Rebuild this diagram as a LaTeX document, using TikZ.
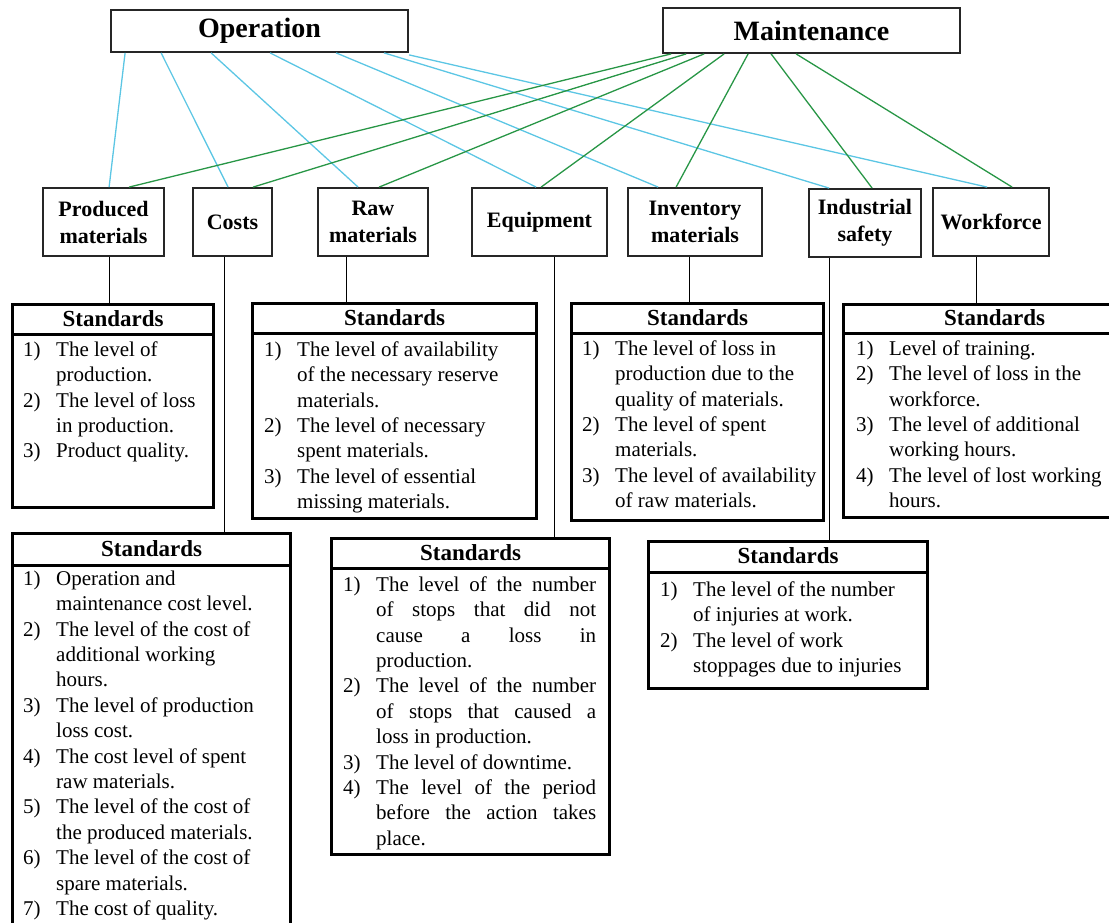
\documentclass[tikz,border=0pt]{standalone}
\usepackage{fontspec}
\setmainfont{Liberation Serif}
\usetikzlibrary{calc}
\definecolor{opc}{RGB}{92,198,228}
\definecolor{mtc}{RGB}{40,150,70}
\newlength\numw
\setlength\numw{33pt}
\newcommand\sitem[2]{\makebox[\numw][l]{#1}#2}
\newcommand\scont[1]{\hspace*{\numw}#1}
\newcommand\jl[1]{\makebox[220pt][s]{#1}}
\begin{document}
\begin{tikzpicture}[x=1pt,y=-1pt,
  topbox/.style={draw=black!85, line width=1.8pt, font=\fontsize{28}{32}\selectfont\bfseries, inner sep=0pt},
  catbox/.style={draw=black!85, line width=1.8pt, font=\fontsize{22}{27}\selectfont\bfseries, align=center, inner sep=0pt, minimum height=68pt},
  stdbox/.style={draw=black, line width=3.2pt, anchor=north west, inner sep=0pt},
  stdhead/.style={font=\fontsize{23}{27}\selectfont\bfseries, inner sep=0pt},
  stdsep/.style={draw=black, line width=3pt},
  stdtext/.style={font=\fontsize{21}{25.4}\selectfont, align=left, anchor=north west, inner sep=0pt},
  oplink/.style={draw=opc, line width=1.3pt},
  mtlink/.style={draw=mtc, line width=1.3pt},
  stem/.style={draw=black, line width=1.2pt}]
\useasboundingbox (0,0) rectangle (1109,923);
\clip (0,0) rectangle (1109,923);

% top boxes
\node[topbox, minimum width=297pt, minimum height=42pt] (op) at (259.5,31) {Operation};
\node[topbox, minimum width=297pt, minimum height=45pt] (mt) at (811.5,30.5) {Maintenance};

% category boxes
\node[catbox, minimum width=121pt] (pm) at (103.5,222) {Produced\\materials};
\node[catbox, minimum width=79pt]  (co) at (232.5,222) {Costs};
\node[catbox, minimum width=110pt] (rm) at (373,222) {Raw\\materials};
\node[catbox, minimum width=135pt] (eq) at (539.5,222) {Equipment};
\node[catbox, minimum width=134pt] (im) at (695,222) {Inventory\\materials};
\node[catbox, minimum width=112pt] (is) at (865,223) {Industrial\\safety};
\node[catbox, minimum width=116pt] (wf) at (991,222) {Workforce};

% operation links
\draw[oplink] ([xshift=15pt]op.south west) -- ([xshift=67pt]pm.north west);
\draw[oplink] ([xshift=51pt]op.south west) -- ([xshift=36pt]co.north west);
\draw[oplink] ([xshift=101pt]op.south west) -- ([xshift=41pt]rm.north west);
\draw[oplink] ([xshift=160pt]op.south west) -- ([xshift=65pt]eq.north west);
\draw[oplink] ([xshift=226pt]op.south west) -- ([xshift=31pt]im.north west);
\draw[oplink] ([xshift=274pt]op.south west) -- ([xshift=21pt]is.north west);
\draw[oplink] ([xshift=299pt,yshift=-2pt]op.south west) -- ([xshift=55pt]wf.north west);

% maintenance links
\draw[mtlink] ([xshift=9pt]mt.south west) -- ([xshift=87pt]pm.north west);
\draw[mtlink] ([xshift=24pt]mt.south west) -- ([xshift=61pt]co.north west);
\draw[mtlink] ([xshift=42pt]mt.south west) -- ([xshift=62pt]rm.north west);
\draw[mtlink] ([xshift=62pt]mt.south west) -- ([xshift=70pt]eq.north west);
\draw[mtlink] ([xshift=86pt]mt.south west) -- ([xshift=49pt]im.north west);
\draw[mtlink] ([xshift=109pt]mt.south west) -- ([xshift=64pt]is.north west);
\draw[mtlink] ([xshift=134pt]mt.south west) -- ([xshift=80pt]wf.north west);

% standards boxes
\node[stdbox, minimum width=201pt, minimum height=203pt] (sp) at (11,303) {};
\node[stdbox, minimum width=284pt, minimum height=215pt] (sr) at (251,302) {};
\node[stdbox, minimum width=252pt, minimum height=217pt] (si) at (570,302) {};
\node[stdbox, minimum width=270pt, minimum height=213pt] (sw) at (842,303) {};
\node[stdbox, minimum width=278pt, minimum height=420pt] (sc) at (11,532) {};
\node[stdbox, minimum width=278pt, minimum height=316pt] (se) at (330,537) {};
\node[stdbox, minimum width=279pt, minimum height=147pt] (ss) at (647,540) {};

% header separators
\draw[stdsep] ([yshift=-31pt]sp.north west) -- ([yshift=-31pt]sp.north east);
\draw[stdsep] ([yshift=-31pt]sr.north west) -- ([yshift=-31pt]sr.north east);
\draw[stdsep] ([yshift=-31pt]si.north west) -- ([yshift=-31pt]si.north east);
\draw[stdsep] ([yshift=-30pt]sw.north west) -- ([yshift=-30pt]sw.north east);
\draw[stdsep] ([yshift=-33pt]sc.north west) -- ([yshift=-33pt]sc.north east);
\draw[stdsep] ([yshift=-31pt]se.north west) -- ([yshift=-31pt]se.north east);
\draw[stdsep] ([yshift=-32pt]ss.north west) -- ([yshift=-32pt]ss.north east);

% headers
\node[stdhead] (hp) at ($(sp.north)+(0,15.5)$) {Standards};
\node[stdhead] (hr) at ($(sr.north)+(0,15.5)$) {Standards};
\node[stdhead] (hi) at ($(si.north)+(0,15.5)$) {Standards};
\node[stdhead] (hw) at ($(sw.north)+(16,15)$) {Standards};
\node[stdhead] (hc) at ($(sc.north)+(0,16.5)$) {Standards};
\node[stdhead] (he) at ($(se.north)+(0,15.5)$) {Standards};
\node[stdhead] (hs) at ($(ss.north)+(0,16)$) {Standards};

% stems
\draw[stem] ([xshift=67pt]pm.south west) -- ([xshift=67pt]pm.south west |- sp.north);
\draw[stem] ([xshift=32pt]co.south west) -- ([xshift=32pt]co.south west |- sc.north);
\draw[stem] ([xshift=29pt]rm.south west) -- ([xshift=29pt]rm.south west |- sr.north);
\draw[stem] ([xshift=83pt]eq.south west) -- ([xshift=83pt]eq.south west |- se.north);
\draw[stem] ([xshift=62pt]im.south west) -- ([xshift=62pt]im.south west |- si.north);
\draw[stem] ([xshift=21pt]is.south west) -- ([xshift=21pt]is.south west |- ss.north);
\draw[stem] ([xshift=44pt]wf.south west) -- ([xshift=44pt]wf.south west |- sw.north);

% item texts
\node[stdtext] (tp) at (23,340) {\rule{0pt}{16pt}\sitem{1)}{The level of}\\
\scont{production.}\\
\sitem{2)}{The level of loss}\\
\scont{in production.}\\
\sitem{3)}{Product quality.}};

\node[stdtext] (tr) at (264,340) {\rule{0pt}{16pt}\sitem{1)}{The level of availability}\\
\scont{of the necessary reserve}\\
\scont{materials.}\\
\sitem{2)}{The level of necessary}\\
\scont{spent materials.}\\
\sitem{3)}{The level of essential}\\
\scont{missing materials.}};

\node[stdtext] (ti) at (582,339) {\rule{0pt}{16pt}\sitem{1)}{The level of loss in}\\
\scont{production due to the}\\
\scont{quality of materials.}\\
\sitem{2)}{The level of spent}\\
\scont{materials.}\\
\sitem{3)}{The level of availability}\\
\scont{of raw materials.}};

\node[stdtext] (tw) at (856,339) {\rule{0pt}{16pt}\sitem{1)}{Level of training.}\\
\sitem{2)}{The level of loss in the}\\
\scont{workforce.}\\
\sitem{3)}{The level of additional}\\
\scont{working hours.}\\
\sitem{4)}{The level of lost working}\\
\scont{hours.}};

\node[stdtext] (tc) at (23,569) {\rule{0pt}{16pt}\sitem{1)}{Operation and}\\
\scont{maintenance cost level.}\\
\sitem{2)}{The level of the cost of}\\
\scont{additional working}\\
\scont{hours.}\\
\sitem{3)}{The level of production}\\
\scont{loss cost.}\\
\sitem{4)}{The cost level of spent}\\
\scont{raw materials.}\\
\sitem{5)}{The level of the cost of}\\
\scont{the produced materials.}\\
\sitem{6)}{The level of the cost of}\\
\scont{spare materials.}\\
\sitem{7)}{The cost of quality.}};

\node[stdtext] (te) at (343,575) {\rule{0pt}{16pt}\sitem{1)}{\jl{The level of the number}}\\
\scont{\jl{of stops that did not}}\\
\scont{\jl{cause a loss in}}\\
\scont{production.}\\
\sitem{2)}{\jl{The level of the number}}\\
\scont{\jl{of stops that caused a}}\\
\scont{loss in production.}\\
\sitem{3)}{The level of downtime.}\\
\sitem{4)}{\jl{The level of the period}}\\
\scont{\jl{before the action takes}}\\
\scont{place.}};

\node[stdtext] (ts) at (660,580) {\rule{0pt}{16pt}\sitem{1)}{The level of the number}\\
\scont{of injuries at work.}\\
\sitem{2)}{The level of work}\\
\scont{stoppages due to injuries}};
\end{tikzpicture}
\end{document}
